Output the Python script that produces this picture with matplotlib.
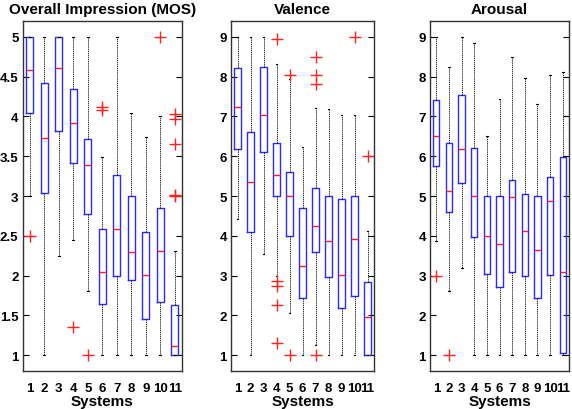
import numpy as np
import matplotlib
matplotlib.use('Agg')
from matplotlib import pyplot as plt

plt.rcParams['font.family'] = ['Liberation Sans', 'DejaVu Sans']
plt.rcParams['font.weight'] = 'bold'

systems = [str(i) for i in range(1, 12)]

# Overall Impression (MOS)
mos_lo = [3.0, 1.0, 2.25, 2.45, 1.81, 1.0, 1.0, 1.0, 1.0, 1.0, 1.0]
mos_q1 = [4.04, 3.04, 3.82, 3.41, 2.78, 1.64, 2.0, 1.95, 1.46, 1.67, 1.0]
mos_med = [4.58, 3.73, 4.61, 3.92, 3.39, 2.05, 2.58, 2.29, 2.01, 2.31, 1.11]
mos_q3 = [5.0, 4.42, 5.0, 4.35, 3.72, 2.58, 3.26, 3.0, 2.55, 2.85, 1.63]
mos_hi = [5.0, 5.0, 5.0, 5.0, 5.0, 3.49, 5.0, 4.04, 3.74, 4.01, 2.31]
mos_out = [[2.5], [], [], [1.35], [1.0], [4.12, 4.08], [], [], [], [5.0],
           [4.03, 3.97, 3.65, 3.0, 3.01]]

# Valence
val_lo = [4.41, 1.0, 3.54, 2.98, 2.07, 1.0, 1.26, 1.0, 1.0, 1.0, 1.0]
val_q1 = [6.19, 4.1, 6.11, 5.0, 4.0, 2.44, 3.6, 2.96, 2.19, 2.48, 1.0]
val_med = [7.24, 5.36, 7.03, 5.53, 4.99, 3.24, 4.25, 3.86, 3.02, 3.93, 1.95]
val_q3 = [8.22, 6.61, 8.24, 6.34, 5.61, 4.69, 5.19, 5.0, 4.93, 5.0, 2.84]
val_hi = [9.0, 9.0, 9.0, 8.32, 7.95, 6.22, 7.22, 7.2, 7.03, 7.03, 4.12]
val_out = [[], [], [], [8.94, 2.86, 2.73, 2.25, 1.3], [8.03, 1.0], [],
           [8.5, 8.05, 7.82, 1.0], [], [], [9.0], [6.0]]

# Arousal
aro_lo = [3.87, 2.62, 3.18, 1.0, 1.0, 1.0, 1.0, 1.0, 1.0, 1.0, 1.0]
aro_q1 = [5.76, 4.6, 5.33, 3.98, 3.04, 2.71, 3.09, 3.0, 2.44, 3.02, 1.05]
aro_med = [6.51, 5.12, 6.17, 5.0, 3.99, 3.8, 4.97, 4.13, 3.65, 4.87, 3.1]
aro_q3 = [7.41, 6.33, 7.53, 6.21, 5.0, 4.99, 5.41, 5.06, 5.0, 5.47, 5.97]
aro_hi = [9.0, 8.24, 9.0, 8.85, 6.51, 7.43, 8.49, 7.97, 7.32, 8.04, 8.12]
aro_out = [[3.0], [1.0], [], [], [], [], [], [], [], [], []]

panels = [
    ('Overall Impression (MOS)', mos_lo, mos_q1, mos_med, mos_q3, mos_hi, mos_out,
     (0.8, 5.2), np.arange(1, 5.01, 0.5), ['1', '1.5', '2', '2.5', '3', '3.5', '4', '4.5', '5']),
    ('Valence', val_lo, val_q1, val_med, val_q3, val_hi, val_out,
     (0.6, 9.4), np.arange(1, 10), [str(i) for i in range(1, 10)]),
    ('Arousal', aro_lo, aro_q1, aro_med, aro_q3, aro_hi, aro_out,
     (0.6, 9.4), np.arange(1, 10), [str(i) for i in range(1, 10)]),
]

W, H = 572, 410
fig = plt.figure(figsize=(W / 100, H / 100), dpi=100)

# axes boxes in pixels: left, right, top, bottom
boxes_px = [(22.6, 182, 22, 372), (231, 374, 22, 372), (430, 569, 22, 372)]

for (title, lo, q1, med, q3, hi, out, ylim, yt, ytl), (l, r, t, b) in zip(panels, boxes_px):
    ax = fig.add_axes([l / W, 1 - b / H, (r - l) / W, (b - t) / H])
    stats = []
    for i in range(len(systems)):
        stats.append(dict(med=med[i], q1=q1[i], q3=q3[i], whislo=lo[i], whishi=hi[i],
                          fliers=out[i], label=systems[i]))
    ax.bxp(stats, positions=np.arange(1, 12), widths=0.5, showfliers=True,
           boxprops=dict(color='#2a2aff', linewidth=1.0),
           medianprops=dict(color='#ff2020', linewidth=1.0),
           whiskerprops=dict(color='black', linewidth=0.6, linestyle=(0, (1.5, 1))),
           capprops=dict(color='black', linewidth=0.8),
           capwidths=0.15,
           flierprops=dict(marker='+', markeredgecolor='#ff2020', markersize=8,
                           markeredgewidth=1.0, linestyle='none'))
    ax.set_xlim(0.5, 11.5)
    ax.set_ylim(*ylim)
    ax.set_yticks(yt)
    ax.set_yticklabels(ytl)
    ax.set_xticks(np.arange(1, 12))
    ax.set_xticklabels(systems)
    ax.tick_params(axis='y', direction='in', left=True, right=True, length=4,
                   labelsize=9.5, pad=3)
    ax.tick_params(axis='x', length=0, labelsize=9.5, pad=8)
    for lab in ax.get_xticklabels() + ax.get_yticklabels():
        lab.set_fontweight('bold')
    for s in ax.spines.values():
        s.set_color('#333333')
        s.set_linewidth(1.0)
    ax.set_title(title, fontsize=11, fontweight='bold', pad=6)
    ax.set_xlabel('Systems', fontsize=11, fontweight='bold', labelpad=0)

fig.savefig('out.png', dpi=100)
